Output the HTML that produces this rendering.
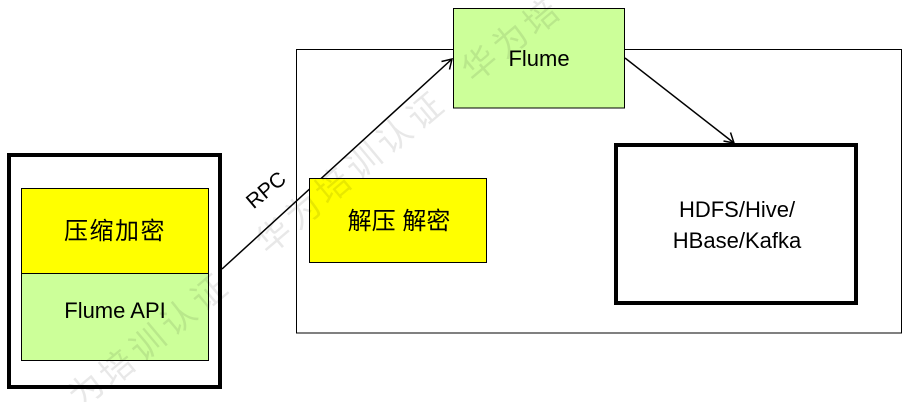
<!DOCTYPE html>
<html>
<head>
<meta charset="utf-8">
<style>
  html, body { margin:0; padding:0; background:#fff; }
  body { width:916px; height:402px; overflow:hidden; }
  svg { display:block; overflow:hidden; }
  .t { font-family: "Liberation Sans", "Noto Sans CJK SC", sans-serif; fill:#000; }
  .wm { font-family: "Noto Sans CJK SC", "WenQuanYi Zen Hei", sans-serif; font-size:34px; fill:#000; fill-opacity:0.09; }
</style>
</head>
<body>
<svg width="916" height="402" viewBox="0 0 916 402" xmlns="http://www.w3.org/2000/svg">
  <!-- big container -->
  <rect x="296.5" y="49.5" width="605" height="283.5" fill="#fff" stroke="#000" stroke-width="1"/>

  <!-- arrows -->
  <line x1="222" y1="269" x2="452" y2="59" stroke="#000" stroke-width="1.5"/>
  <polyline points="441.5,61.5 452,59 449.5,69.5" fill="none" stroke="#000" stroke-width="1.5"/>
  <line x1="625" y1="58" x2="734" y2="143" stroke="#000" stroke-width="1.5"/>
  <polyline points="730.5,132.5 734,143 723.5,141" fill="none" stroke="#000" stroke-width="1.5"/>

  <!-- left box -->
  <rect x="9" y="155" width="211" height="232" fill="#fff" stroke="#000" stroke-width="4"/>
  <rect x="21.5" y="188.5" width="187" height="85" fill="#FFFF00" stroke="#000" stroke-width="1"/>
  <rect x="21.5" y="273.5" width="187" height="87" fill="#CCFF99" stroke="#000" stroke-width="1"/>
  <text class="t" x="115" y="239" font-size="24" letter-spacing="1.5" text-anchor="middle">压缩加密</text>
  <text class="t" x="115" y="318" font-size="22" text-anchor="middle">Flume API</text>

  <!-- RPC label -->
  <text class="t" x="266" y="197" font-size="21" text-anchor="middle" transform="rotate(-40 266 190)">RPC</text>

  <!-- Flume box -->
  <rect x="453.5" y="8.5" width="171" height="99.5" fill="#CCFF99" stroke="#000" stroke-width="1"/>
  <text class="t" x="539" y="66" font-size="22" text-anchor="middle">Flume</text>

  <!-- decompress box -->
  <rect x="309.5" y="178.5" width="177" height="84" fill="#FFFF00" stroke="#000" stroke-width="1"/>
  <text class="t" x="399" y="229" font-size="24" text-anchor="middle">解压 解密</text>

  <!-- HDFS box -->
  <rect x="616" y="145" width="240" height="158" fill="#fff" stroke="#000" stroke-width="4"/>
  <text class="t" x="737" y="217" font-size="22" text-anchor="middle">HDFS/Hive/</text>
  <text class="t" x="737" y="248" font-size="22" text-anchor="middle">HBase/Kafka</text>

  <!-- watermark -->
  <g class="wm" text-anchor="middle" dominant-baseline="central">
    <text x="84.6" y="388" transform="rotate(-40 84.6 388)">为</text>
    <text x="115.3" y="366" transform="rotate(-40 115.3 366)">培</text>
    <text x="145.9" y="341" transform="rotate(-40 145.9 341)">训</text>
    <text x="176.6" y="316" transform="rotate(-40 176.6 316)">认</text>
    <text x="207.2" y="291" transform="rotate(-40 207.2 291)">证</text>
    <text x="272" y="234" transform="rotate(-40 272 234)">华</text>
    <text x="301.6" y="209" transform="rotate(-40 301.6 209)">为</text>
    <text x="331.3" y="184" transform="rotate(-40 331.3 184)">培</text>
    <text x="361.9" y="159" transform="rotate(-40 361.9 159)">训</text>
    <text x="392.5" y="134" transform="rotate(-40 392.5 134)">认</text>
    <text x="423.2" y="109" transform="rotate(-40 423.2 109)">证</text>
    <text x="478" y="62" transform="rotate(-40 478 62)">华</text>
    <text x="508.6" y="38" transform="rotate(-40 508.6 38)">为</text>
    <text x="539.3" y="15" transform="rotate(-40 539.3 15)">培</text>
  </g>
</svg>
</body>
</html>
